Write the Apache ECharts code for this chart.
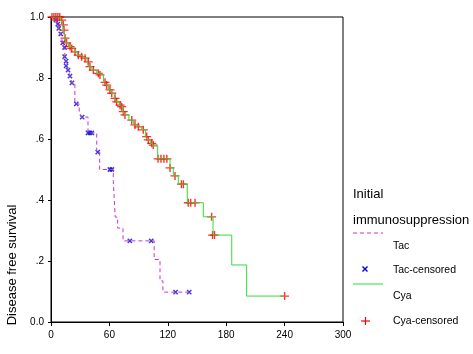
<!DOCTYPE html>
<html>
<head>
<meta charset="utf-8">
<script src="https://cdn.jsdelivr.net/npm/echarts@6/dist/echarts.min.js"></script>
<style>
  html, body { margin: 0; padding: 0; background: #ffffff; }
  #chart { width: 473px; height: 354px; }
</style>
</head>
<body>
<div id="chart"></div>
<script>
// Kaplan-Meier steps: time at which survival drops, and the new level
const tacTime = [0, 5, 7, 8, 10, 11, 12, 13, 14, 14.5, 15.5, 16, 17.5, 19.5, 21.5, 24.5, 29, 31, 38, 47, 50, 64, 66, 68.5, 74, 106, 112, 115, 142]
const tacSurv = [1.0, 0.99, 0.977, 0.963, 0.945, 0.93, 0.915, 0.9, 0.885, 0.87, 0.855, 0.84, 0.826, 0.806, 0.784, 0.715, 0.69, 0.672, 0.62, 0.557, 0.50, 0.46, 0.344, 0.308, 0.266, 0.205, 0.135, 0.098, 0.098]

const tacCensTime = [5, 7, 8, 10, 12, 14, 14, 15.5, 15.5, 17.5, 19.5, 21.5, 26, 32, 38, 40, 42, 48, 60.5, 62.5, 81, 103, 128, 142]
const tacCensSurv = [0.99, 0.977, 0.963, 0.945, 0.915, 0.9, 0.87, 0.855, 0.84, 0.826, 0.806, 0.784, 0.715, 0.672, 0.62, 0.62, 0.62, 0.557, 0.50, 0.50, 0.266, 0.266, 0.098, 0.098]

const cyaTime = [0, 10, 12, 13, 14, 15.5, 18, 21, 24, 27, 31, 34, 37, 39, 42, 47, 50, 54, 56, 59, 62, 65, 67, 70, 72, 74, 75.5, 80, 85, 88, 93, 97, 99, 102, 104.5, 109.6, 122.3, 125.7, 130.8, 140, 156.5, 166.5, 185.7, 201, 240]
const cyaSurv = [1.0, 0.99, 0.974, 0.957, 0.931, 0.915, 0.903, 0.897, 0.886, 0.875, 0.87, 0.865, 0.853, 0.837, 0.826, 0.815, 0.81, 0.786, 0.777, 0.761, 0.75, 0.733, 0.722, 0.711, 0.706, 0.69, 0.679, 0.662, 0.646, 0.64, 0.63, 0.608, 0.597, 0.586, 0.577, 0.535, 0.505, 0.479, 0.452, 0.391, 0.345, 0.285, 0.187, 0.085, 0.085]

const cyaCensTime = [1, 3, 5, 7, 9, 11, 12.6, 13.4, 14.4, 16, 19.5, 21.3, 24.7, 28, 31.5, 35, 38.3, 40, 43.5, 48.6, 50.3, 55.5, 57.2, 60.6, 62.4, 65.8, 67.5, 71, 72.6, 74.3, 76, 83, 86.3, 89.7, 94.8, 98.3, 100, 103.5, 105, 110, 113, 116, 119, 122.3, 127.4, 134, 136, 141, 143.5, 148, 165, 166, 168, 240]
const cyaCensSurv = [1.0, 1.0, 1.0, 1.0, 1.0, 0.99, 0.974, 0.957, 0.931, 0.915, 0.903, 0.897, 0.886, 0.875, 0.87, 0.865, 0.853, 0.837, 0.826, 0.815, 0.81, 0.786, 0.777, 0.761, 0.75, 0.733, 0.722, 0.711, 0.706, 0.69, 0.679, 0.662, 0.646, 0.64, 0.63, 0.608, 0.597, 0.586, 0.58, 0.535, 0.535, 0.535, 0.535, 0.505, 0.479, 0.452, 0.452, 0.391, 0.391, 0.391, 0.345, 0.285, 0.285, 0.085]

const xTicks = [0, 60, 120, 180, 240, 300]

const zip = (a, b) => a.map((v, i) => [v, b[i]])

const font = 'Arial, "Liberation Sans", sans-serif'
const plusPath = 'path://M0,4.2L10,4.2L10,5.8L0,5.8Z M4.2,0L5.8,0L5.8,10L4.2,10Z'
const crossPath = 'path://M0,3.8L10,3.8L10,6.2L0,6.2Z M3.8,0L6.2,0L6.2,10L3.8,10Z'

const chart = echarts.init(document.getElementById('chart'))

const option = {
  backgroundColor: '#ffffff',
  animation: false,
  grid: {
    left: 51, top: 17, right: 130, bottom: 32,
    show: true, borderColor: '#000', borderWidth: 1
  },
  xAxis: {
    type: 'value',
    min: xTicks[0],
    max: xTicks[xTicks.length - 1],
    interval: 60,
    axisLine: {lineStyle: {color: '#000', width: 1}},
    axisTick: {length: 4, lineStyle: {color: '#000'}},
    axisLabel: {color: '#000', fontSize: 10, fontFamily: font, margin: 8},
    splitLine: {show: false}
  },
  yAxis: {
    type: 'value',
    min: 0, max: 1, interval: 0.2,
    axisLine: {lineStyle: {color: '#000', width: 1}},
    axisTick: {length: 3, lineStyle: {color: '#000'}},
    axisLabel: {
      color: '#000', fontSize: 10, fontFamily: font, margin: 7,
      formatter: (v) => v === 0 ? '0.0' : v === 1 ? '1.0' : v.toFixed(1).replace(/^0/, '')
    },
    splitLine: {show: false}
  },
  series: [
    {
      name: 'Tac',
      type: 'line',
      step: 'end',
      showSymbol: false,
      data: zip(tacTime, tacSurv),
      lineStyle: {color: '#cc33cc', width: 1, type: [4, 3]}
    },
    {
      name: 'Tac-censored',
      type: 'scatter',
      symbol: crossPath,
      symbolSize: 6,
      symbolRotate: 45,
      data: zip(tacCensTime, tacCensSurv),
      itemStyle: {color: '#0a0ad0'}
    },
    {
      name: 'Cya',
      type: 'line',
      step: 'end',
      showSymbol: false,
      data: zip(cyaTime, cyaSurv),
      lineStyle: {color: '#33dd33', width: 1}
    },
    {
      name: 'Cya-censored',
      type: 'scatter',
      symbol: plusPath,
      symbolSize: [9, 8],
      data: zip(cyaCensTime, cyaCensSurv),
      itemStyle: {color: '#ff0000'}
    }
  ],
  graphic: [
    {
      type: 'text', x: 12, y: 265, rotation: Math.PI / 2,
      style: {text: 'Disease free survival', font: '13px ' + font, fill: '#000', align: 'center', verticalAlign: 'middle'}
    },
    {type: 'text', x: 353, y: 194, style: {text: 'Initial', font: '13px ' + font, fill: '#000', verticalAlign: 'middle'}},
    {type: 'text', x: 353, y: 220, style: {text: 'immunosuppression', font: '13px ' + font, fill: '#000', verticalAlign: 'middle'}},
    {type: 'line', shape: {x1: 353, y1: 233, x2: 383, y2: 233}, style: {stroke: '#cc33cc', lineWidth: 1, lineDash: [4, 3]}},
    {type: 'text', x: 393, y: 246, style: {text: 'Tac', font: '10.5px ' + font, fill: '#000', verticalAlign: 'middle'}},
    {type: 'line', shape: {x1: 362.5, y1: 266.5, x2: 367.5, y2: 271.5}, style: {stroke: '#0a0ad0', lineWidth: 1.5}},
    {type: 'line', shape: {x1: 367.5, y1: 266.5, x2: 362.5, y2: 271.5}, style: {stroke: '#0a0ad0', lineWidth: 1.5}},
    {type: 'text', x: 393, y: 270, style: {text: 'Tac-censored', font: '10.5px ' + font, fill: '#000', verticalAlign: 'middle'}},
    {type: 'line', shape: {x1: 353, y1: 284, x2: 383, y2: 284}, style: {stroke: '#33dd33', lineWidth: 1}},
    {type: 'text', x: 393, y: 296, style: {text: 'Cya', font: '10.5px ' + font, fill: '#000', verticalAlign: 'middle'}},
    {type: 'line', shape: {x1: 361, y1: 321, x2: 370, y2: 321}, style: {stroke: '#ff0000', lineWidth: 1.2}},
    {type: 'line', shape: {x1: 365.5, y1: 317, x2: 365.5, y2: 325}, style: {stroke: '#ff0000', lineWidth: 1.2}},
    {type: 'text', x: 393, y: 321, style: {text: 'Cya-censored', font: '10.5px ' + font, fill: '#000', verticalAlign: 'middle'}}
  ]
}

chart.setOption(option)
</script>
</body>
</html>
